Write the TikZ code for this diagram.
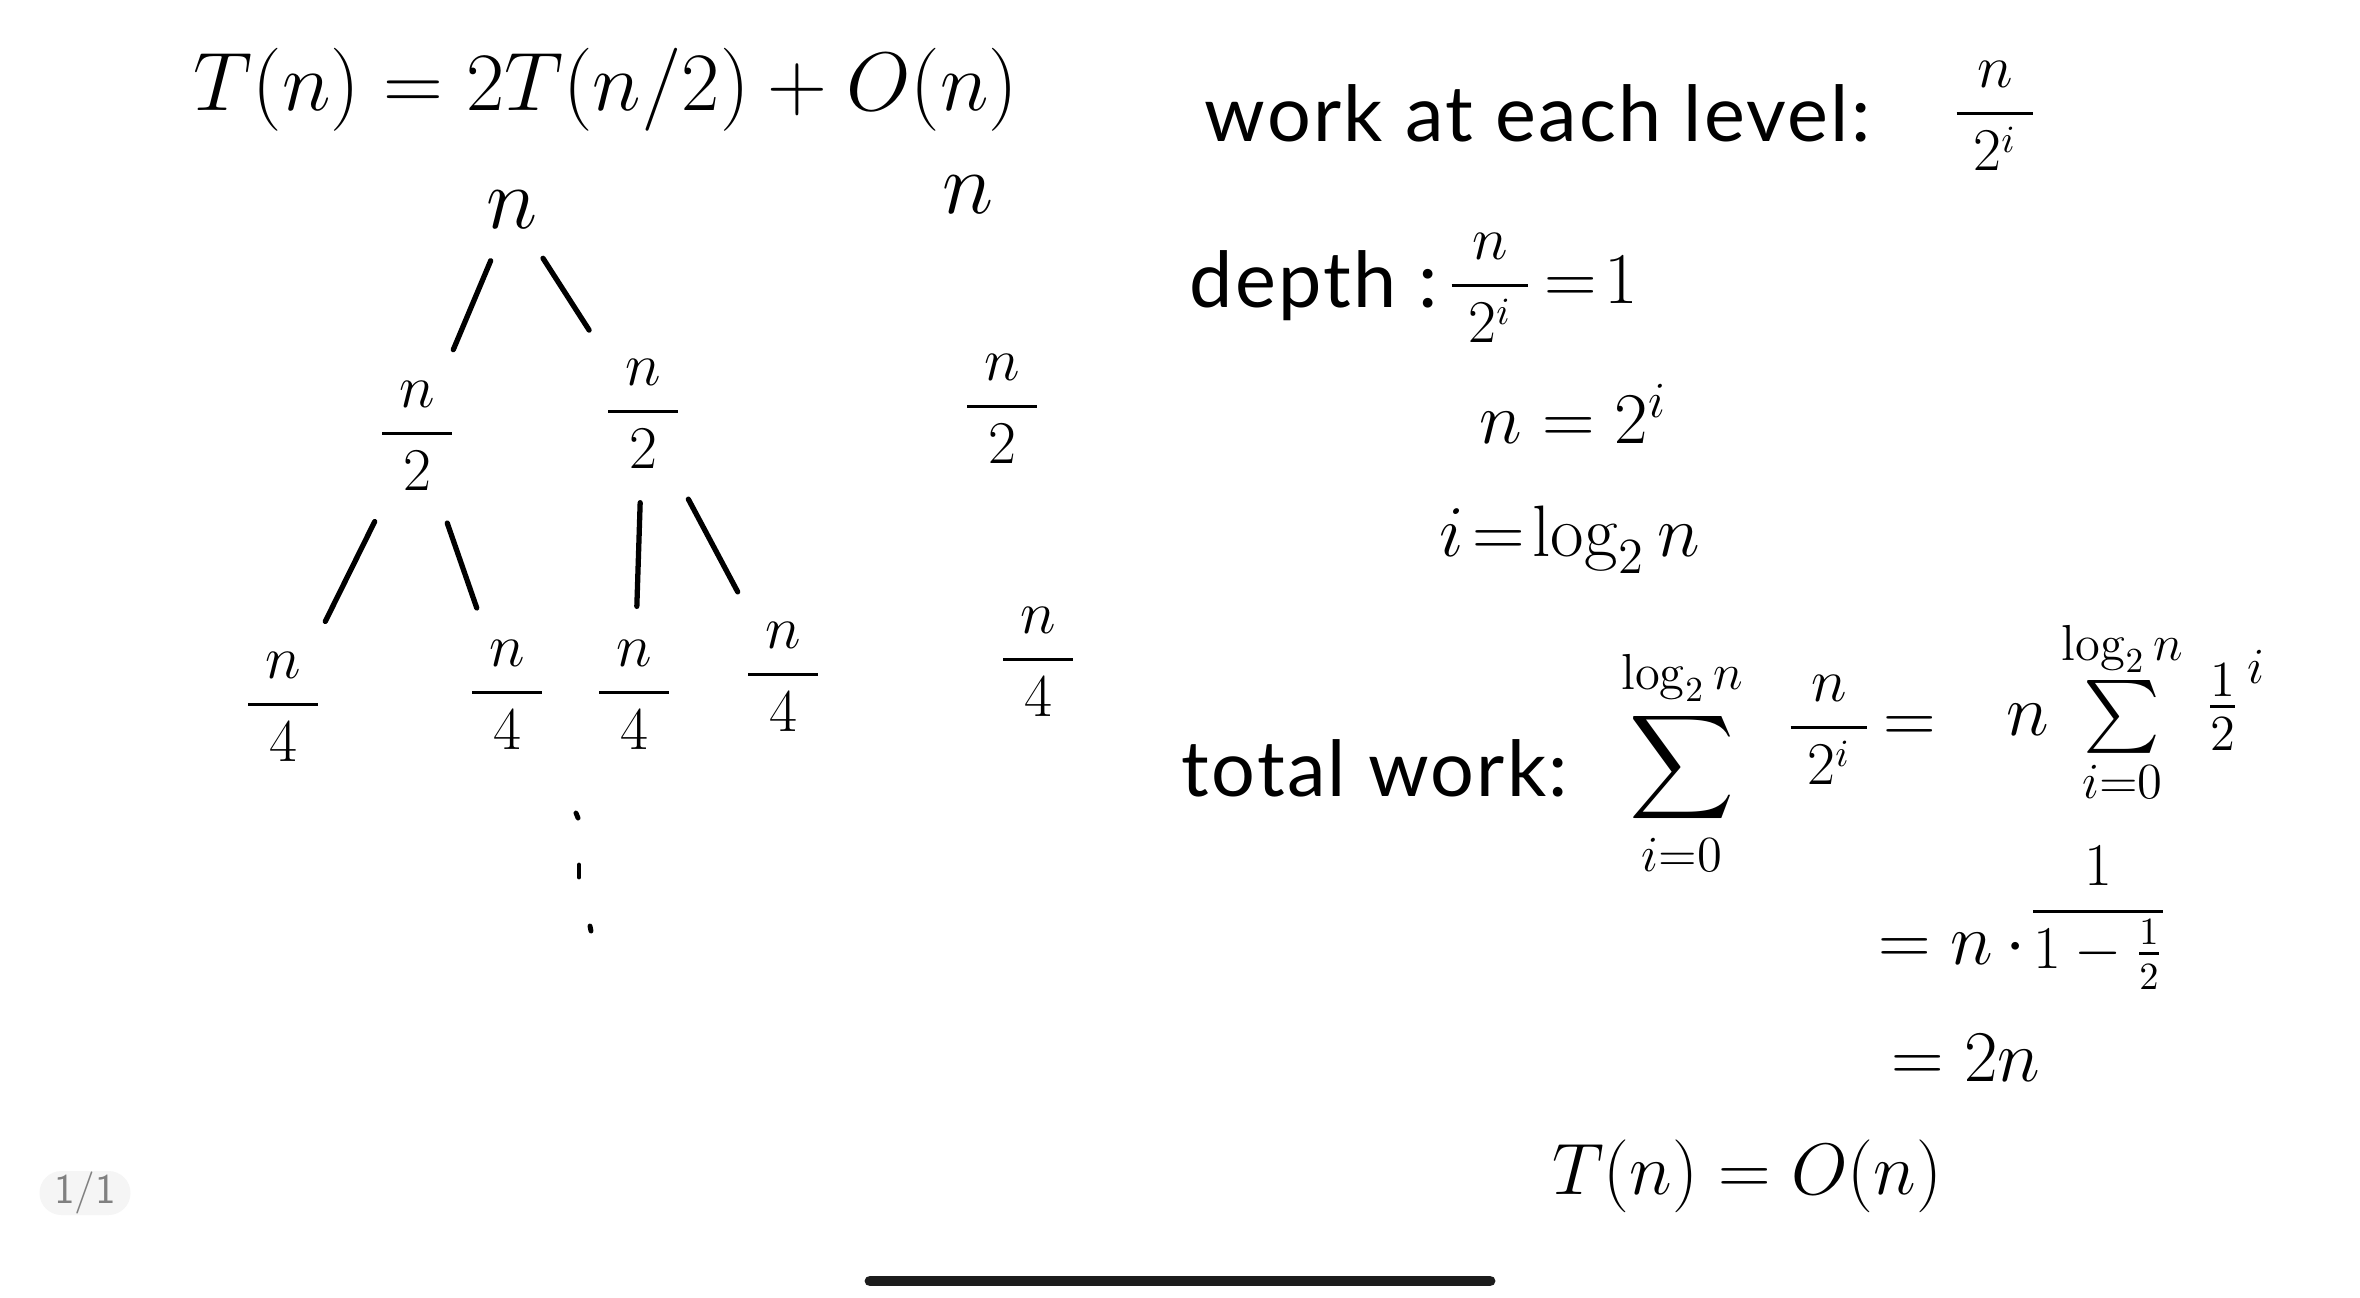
\documentclass[tikz,border=0pt]{standalone}
\usepackage{amsmath}
\usepackage{graphicx}
\usepackage[no-math]{fontspec}
\setmainfont{Lato}
\newcommand{\wfr}[2]{\dfrac{\;#1\;}{\;#2\;}}
\begin{document}
\begin{tikzpicture}[x=0.1mm,y=-0.1mm]
\tikzset{
  big/.style={inner sep=1pt, font=\fontsize{23}{27}\selectfont},
  eqn/.style={inner sep=1pt, font=\fontsize{20}{24}\selectfont},
  mid/.style={inner sep=1pt, font=\fontsize{18}{22}\selectfont},
  small/.style={inner sep=1pt, font=\fontsize{16}{19}\selectfont},
  txt/.style={inner sep=0pt, anchor=west, font=\fontsize{22}{26}\selectfont\addfontfeatures{LetterSpace=3}},
  edge/.style={line width=1.5pt, line cap=round, shorten <=3mm, shorten >=3mm},
  dotmark/.style={line width=1.4pt, line cap=round},
  badge/.style={rounded corners=2.2mm, fill=black!4, text=black!50, minimum width=9.1mm, minimum height=4.4mm, inner sep=0pt, font=\sffamily\fontsize{12}{14}\selectfont},
  homebar/.style={line width=3.1pt, line cap=round, draw=black!89}
}
\useasboundingbox (0,0) rectangle (2360,1297);
\fill[white] (0,0) rectangle (2360,1297);

% recurrence
\node[big] (rec) at (606,90) {\scalebox{0.95}{$T(n) = 2T(n/2) + O(n)$}};

% work at each level
\node[txt] (work) at (1204,113) {work at each level:};
\node[small] (wfrac) at (1995,116) {$\wfr{n}{2^{i}}$};

% tree
\node[big] (root) at (512,210) {$n$};
\node[mid] (a) at (417,436) {$\wfr{n}{2}$};
\node[mid] (b) at (643,414) {$\wfr{n}{2}$};
\node[mid] (c1) at (283,707) {$\wfr{n}{4}$};
\node[mid] (c2) at (507,695) {$\wfr{n}{4}$};
\node[mid] (c3) at (634,695) {$\wfr{n}{4}$};
\node[mid] (c4) at (783,677) {$\wfr{n}{4}$};
\draw[edge] (root) -- (a);
\draw[edge] (root) -- (b);
\draw[edge] (a) -- (c1);
\draw[edge] (a) -- (c2);
\draw[edge] (b) -- (c3);
\draw[edge] (b) -- (c4);
\coordinate (d1) at (576,813);
\coordinate (d2) at (579,865);
\coordinate (d3) at (590,926);
\draw[dotmark] (d1) -- ++(2,5);
\draw[dotmark] (d2) -- ++(0,12);
\draw[dotmark] (d3) -- ++(1,5);

% per-level column
\node[big] (s0) at (968,195) {$n$};
\node[mid] (s1) at (1002,409) {$\wfr{n}{2}$};
\node[mid] (s2) at (1038,662) {$\wfr{n}{4}$};

% depth
\node[txt] (depth) at (1189,286) {depth :};
\node[small] (dfrac) at (1490,288) {$\wfr{n}{2^{i}}$};
\node[eqn, anchor=west] (eq1) at (1540,280) {$=\!1$};
\node[eqn] (n2i) at (1573,414) {$n = 2^{i}$};
\node[eqn] (ilog) at (1570,540) {$i \!=\! \log_2 n$};

% total work
\node[txt] (total) at (1181,768) {total work:};
\node[eqn] (sum1) at (1682,763) {$\displaystyle\sum_{i=0}^{\log_2 n}$};
\node[small] (frac1) at (1829,730) {$\wfr{n}{2^{i}}$};
\node[eqn] (eq2) at (1910,730) {$=$};
\node[eqn] (sum2) at (2095,712) {$n\sum\limits_{i=0}^{\log_2 n}$};
\node[eqn] (half) at (2236,700) {$\frac{1}{2}^{\,i}$};
\node[eqn] (step1) at (1952,948) {$= n\,\cdot$};
\node[small] (step1f) at (2098,918) {$\dfrac{1}{1-\frac{1}{2}}$};
\node[eqn] (step2) at (1966,1058) {$= 2n$};
\node[eqn] (res) at (1747,1176) {$T(n) = O(n)$};

% page badge and home bar
\node[badge] (pg) at (85,1193) {1/1};
\coordinate (hb1) at (870,1281);
\coordinate (hb2) at (1490,1281);
\draw[homebar] (hb1) -- (hb2);
\end{tikzpicture}
\end{document}
